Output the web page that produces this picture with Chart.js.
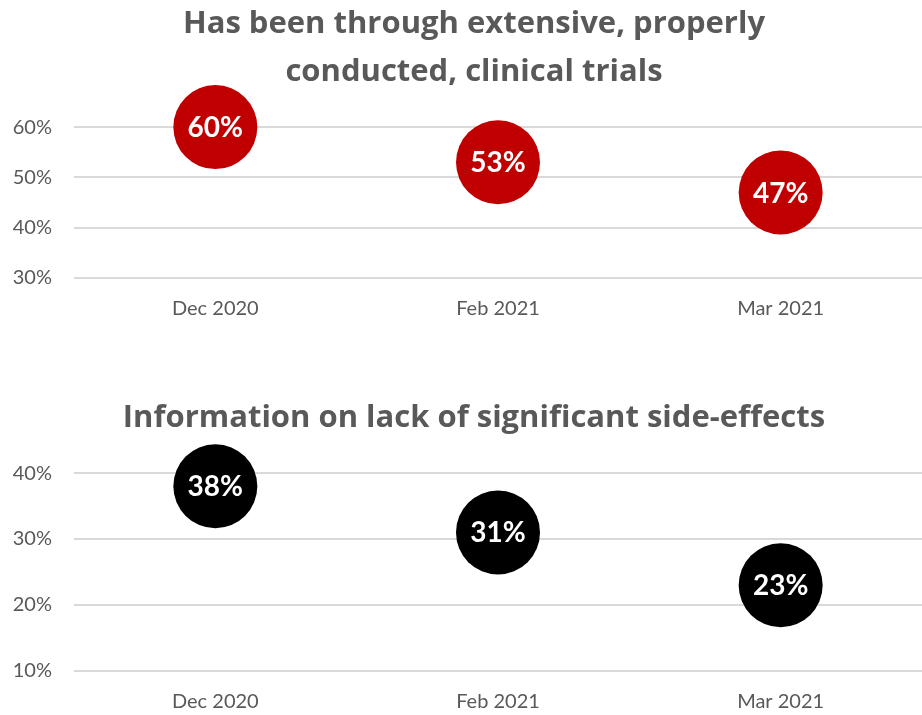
<!DOCTYPE html>
<html>
<head>
<meta charset="utf-8">
<script src="https://cdn.jsdelivr.net/npm/chart.js@4/dist/chart.umd.min.js"></script>
<style>
  html, body { margin: 0; padding: 0; background: #ffffff; overflow: hidden; }
  #wrap { position: relative; width: 922px; height: 715px; overflow: hidden; }
  .box { position: absolute; left: 0; width: 964px; }
  #box1 { top: 0; height: 340px; }
  #box2 { top: 345px; height: 370px; }
</style>
</head>
<body>
<div id="wrap">
  <div class="box" id="box1"><canvas id="c1"></canvas></div>
  <div class="box" id="box2"><canvas id="c2"></canvas></div>
</div>
<script>
// ---- Data ----
const categories = ["Dec 2020", "Feb 2021", "Mar 2021"];

const title1 = ["Has been through extensive, properly", "conducted, clinical trials"];
const values1 = [60, 53, 47];
const yTicks1 = [30, 40, 50, 60];

const title2 = "Information on lack of significant side-effects";
const values2 = [38, 31, 23];
const yTicks2 = [10, 20, 30, 40];

// ---- Styles ----
const FONT = "Lato, 'Open Sans', sans-serif";
const TITLE_FONT = "'Open Sans', Lato, sans-serif";
const GREY = "#595959";

const bubbleLabels = {
  id: "bubbleLabels",
  afterDatasetsDraw(chart) {
    const ctx = chart.ctx;
    chart.data.datasets.forEach((ds, di) => {
      const meta = chart.getDatasetMeta(di);
      meta.data.forEach((pt, i) => {
        ctx.save();
        ctx.fillStyle = "#ffffff";
        ctx.font = "bold 28px " + FONT;
        ctx.textAlign = "center";
        ctx.textBaseline = "middle";
        ctx.fillText(ds.data[i] + "%", pt.x, pt.y + 1);
        ctx.restore();
      });
    });
  }
};

function makeChart(id, title, values, ticks, color, titlePad, xHeight, xPad) {
  return new Chart(document.getElementById(id), {
    type: "line",
    data: {
      labels: categories,
      datasets: [{
        data: values,
        showLine: false,
        pointRadius: 42,
        pointHoverRadius: 42,
        pointBackgroundColor: color,
        pointBorderColor: color,
        pointBorderWidth: 0,
        clip: false
      }]
    },
    options: {
      responsive: true,
      maintainAspectRatio: false,
      animation: false,
      events: [],
      layout: { padding: { left: 0, right: 16, top: 0, bottom: 0 } },
      plugins: {
        legend: { display: false },
        tooltip: { enabled: false },
        title: {
          display: true,
          text: title,
          color: GREY,
          font: { family: TITLE_FONT, size: 31, weight: "bold", lineHeight: 1.55 },
          padding: titlePad
        }
      },
      scales: {
        x: {
          type: "category",
          offset: true,
          grid: { display: false },
          border: { display: false },
          ticks: { color: GREY, font: { family: FONT, size: 20 }, padding: xPad },
          afterFit: (s) => { s.height = xHeight; }
        },
        y: {
          min: ticks[0],
          max: ticks[ticks.length - 1],
          afterBuildTicks: (s) => { s.ticks = ticks.map(v => ({ value: v })); },
          grid: { color: "#d9d9d9", lineWidth: 2, drawTicks: false },
          border: { display: false },
          ticks: {
            color: GREY,
            font: { family: FONT, size: 20 },
            padding: 22,
            callback: (v) => v + "%"
          },
          afterFit: (s) => { s.width = 74; }
        }
      }
    },
    plugins: [bubbleLabels]
  });
}

makeChart("c1", title1, values1, yTicks1, "#C00000", { top: 0, bottom: 31 }, 62, 11);
makeChart("c2", title2, values2, yTicks2, "#000000", { top: 49, bottom: 31 }, 44, 11);
</script>
</body>
</html>
